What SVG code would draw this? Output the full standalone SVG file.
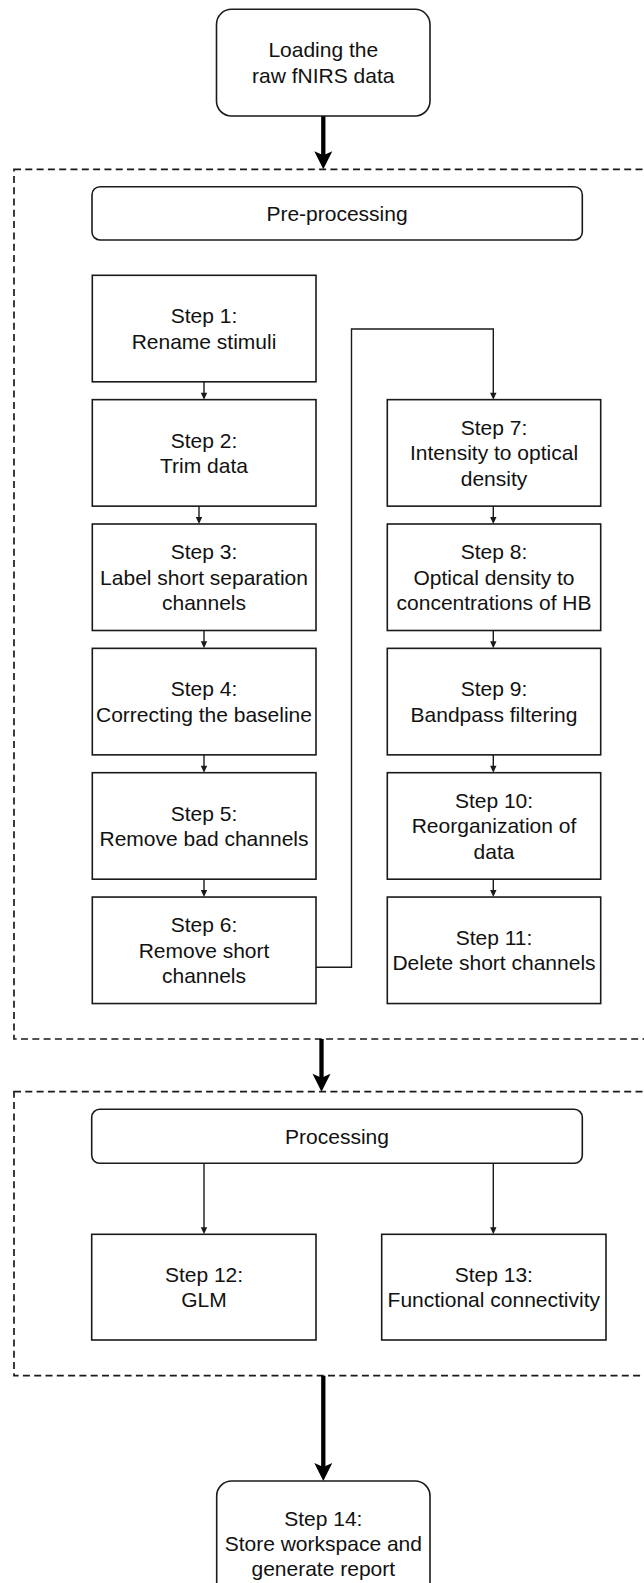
<svg xmlns="http://www.w3.org/2000/svg" width="644" height="1583" viewBox="0 0 644 1583">
<style>
text{font-family:"Liberation Sans",Arial,Helvetica,sans-serif;font-size:21px;fill:#111;text-anchor:middle}
.box{fill:#fff;stroke:#1a1a1a;stroke-width:1.6}
.group{fill:none;stroke:#1a1a1a;stroke-width:1.7;stroke-dasharray:7 4.3}
.thin{fill:none;stroke:#1a1a1a;stroke-width:1.4}
.thick{fill:none;stroke:#000;stroke-width:4.3}
.head{fill:#1a1a1a;stroke:none}
.bighead{fill:#000;stroke:none}
</style>
<defs>
<path id="ah" d="M0,0 L-3.2,-7 L3.2,-7 Z"/>
<path id="bh" d="M0,0 L-9,-18 L0,-14 L9,-18 Z"/>
</defs>
<rect width="644" height="1583" fill="#fff"/>
<g id="group-preprocessing">
<rect class="group" x="14" y="169.3" width="640" height="869.7"/>
</g>
<g id="group-processing">
<rect class="group" x="14" y="1091.7" width="640" height="284"/>
</g>
<g id="connectors">
<line class="thick" x1="323.3" y1="116" x2="323.3" y2="156"/>
<use href="#bh" class="bighead" x="323.3" y="169.3"/>
<line class="thick" x1="321.5" y1="1039" x2="321.5" y2="1078"/>
<use href="#bh" class="bighead" x="321.5" y="1091.7"/>
<line class="thick" x1="323.3" y1="1375.7" x2="323.3" y2="1467"/>
<use href="#bh" class="bighead" x="323.3" y="1481"/>
<line class="thin" x1="204" y1="381.8" x2="204" y2="394"/>
<use href="#ah" class="head" x="204" y="399.65"/>
<line class="thin" x1="199" y1="506.15" x2="199" y2="518"/>
<use href="#ah" class="head" x="199" y="524"/>
<line class="thin" x1="204" y1="630.5" x2="204" y2="642"/>
<use href="#ah" class="head" x="204" y="648.35"/>
<line class="thin" x1="204" y1="754.85" x2="204" y2="767"/>
<use href="#ah" class="head" x="204" y="772.7"/>
<line class="thin" x1="204" y1="879.2" x2="204" y2="891"/>
<use href="#ah" class="head" x="204" y="897.05"/>
<polyline class="thin" points="316,967.3 351.5,967.3 351.5,329 493.3,329 493.3,394"/>
<use href="#ah" class="head" x="493.3" y="399.65"/>
<line class="thin" x1="493.3" y1="506.15" x2="493.3" y2="518"/>
<use href="#ah" class="head" x="493.3" y="524"/>
<line class="thin" x1="493.3" y1="630.5" x2="493.3" y2="642"/>
<use href="#ah" class="head" x="493.3" y="648.35"/>
<line class="thin" x1="493.3" y1="754.85" x2="493.3" y2="767"/>
<use href="#ah" class="head" x="493.3" y="772.7"/>
<line class="thin" x1="493.3" y1="879.2" x2="493.3" y2="891"/>
<use href="#ah" class="head" x="493.3" y="897.05"/>
<line class="thin" x1="204" y1="1163.3" x2="204" y2="1228"/>
<use href="#ah" class="head" x="204" y="1234.3"/>
<line class="thin" x1="493.3" y1="1163.3" x2="493.3" y2="1228"/>
<use href="#ah" class="head" x="493.3" y="1234.3"/>
</g>
<g id="load">
<rect class="box" x="216.5" y="9.3" width="213.5" height="106.7" rx="15"/>
<text x="323.3" y="57.35">Loading the<tspan x="323.3" dy="25.4">raw fNIRS data</tspan></text>
</g>
<g id="preprocessing">
<rect class="box" x="92" y="186.7" width="490.3" height="53.3" rx="8"/>
<text x="337" y="220.8">Pre-processing</text>
</g>
<g id="step1">
<rect class="box" x="92.3" y="275.3" width="223.7" height="106.5"/>
<text x="204" y="323.25">Step 1:<tspan x="204" dy="25.4">Rename stimuli</tspan></text>
</g>
<g id="step2">
<rect class="box" x="92.3" y="399.65" width="223.7" height="106.5"/>
<text x="204" y="447.6">Step 2:<tspan x="204" dy="25.4">Trim data</tspan></text>
</g>
<g id="step3">
<rect class="box" x="92.3" y="524" width="223.7" height="106.5"/>
<text x="204" y="559.25">Step 3:<tspan x="204" dy="25.4">Label short separation</tspan><tspan x="204" dy="25.4">channels</tspan></text>
</g>
<g id="step4">
<rect class="box" x="92.3" y="648.35" width="223.7" height="106.5"/>
<text x="204" y="696.3">Step 4:<tspan x="204" dy="25.4">Correcting the baseline</tspan></text>
</g>
<g id="step5">
<rect class="box" x="92.3" y="772.7" width="223.7" height="106.5"/>
<text x="204" y="820.65">Step 5:<tspan x="204" dy="25.4">Remove bad channels</tspan></text>
</g>
<g id="step6">
<rect class="box" x="92.3" y="897.05" width="223.7" height="106.5"/>
<text x="204" y="932.3">Step 6:<tspan x="204" dy="25.4">Remove short</tspan><tspan x="204" dy="25.4">channels</tspan></text>
</g>
<g id="step7">
<rect class="box" x="387.3" y="399.65" width="213.4" height="106.5"/>
<text x="494" y="434.9">Step 7:<tspan x="494" dy="25.4">Intensity to optical</tspan><tspan x="494" dy="25.4">density</tspan></text>
</g>
<g id="step8">
<rect class="box" x="387.3" y="524" width="213.4" height="106.5"/>
<text x="494" y="559.25">Step 8:<tspan x="494" dy="25.4">Optical density to</tspan><tspan x="494" dy="25.4">concentrations of HB</tspan></text>
</g>
<g id="step9">
<rect class="box" x="387.3" y="648.35" width="213.4" height="106.5"/>
<text x="494" y="696.3">Step 9:<tspan x="494" dy="25.4">Bandpass filtering</tspan></text>
</g>
<g id="step10">
<rect class="box" x="387.3" y="772.7" width="213.4" height="106.5"/>
<text x="494" y="807.95">Step 10:<tspan x="494" dy="25.4">Reorganization of</tspan><tspan x="494" dy="25.4">data</tspan></text>
</g>
<g id="step11">
<rect class="box" x="387.3" y="897.05" width="213.4" height="106.5"/>
<text x="494" y="945">Step 11:<tspan x="494" dy="25.4">Delete short channels</tspan></text>
</g>
<g id="processing">
<rect class="box" x="91.7" y="1109.3" width="490.6" height="54" rx="8"/>
<text x="337" y="1143.5">Processing</text>
</g>
<g id="step12">
<rect class="box" x="91.7" y="1234.3" width="224.3" height="105.7"/>
<text x="204" y="1281.85">Step 12:<tspan x="204" dy="25.4">GLM</tspan></text>
</g>
<g id="step13">
<rect class="box" x="381.7" y="1234.3" width="224.3" height="105.7"/>
<text x="493.8" y="1281.85">Step 13:<tspan x="493.8" dy="25.4">Functional connectivity</tspan></text>
</g>
<g id="step14">
<rect class="box" x="216.7" y="1481" width="213.3" height="125" rx="15"/>
<text x="323.3" y="1525.7">Step 14:<tspan x="323.3" dy="25.1">Store workspace and</tspan><tspan x="323.3" dy="25.1">generate report</tspan></text>
</g>
</svg>
